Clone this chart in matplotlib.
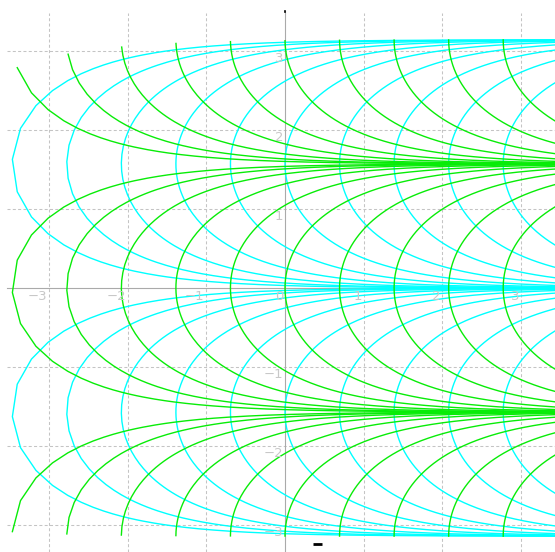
import numpy as np
import matplotlib
matplotlib.use("Agg")
from matplotlib import pyplot as plt

# grid levels of the z-plane lines (Re z = +-c and Im z = +-c), mapped by w = log(z)
levels = [1/32, 1/16, 1/8, 1/4, 1/2, 1, 2, 4, 8, 16]
signs = [1, -1]
# sampling of the other coordinate along each line
step = 0.0133
start = -0.0018
nhalf = 3000

ticks_x = [-3, -2, -1, 0, 1, 2, 3]
ticks_y = [3, 2, 1, -1, -2, -3]

cyan = '#00ffff'
green = '#08ec08'
gridc = '#c4c4c4'
axisc = '#aaaaaa'
labelc = '#c8c8c8'


def split_at_cut(w):
    # break the polyline where the argument jumps across the branch cut
    jumps = np.where(np.abs(np.diff(w.imag)) > np.pi)[0]
    return np.split(w, jumps + 1)


fig = plt.figure(figsize=(5.55, 5.52), dpi=100)
ax = fig.add_axes([0, 0, 1, 1])
xmin, xmax = -285 / 78.7, 270 / 78.7
ymin, ymax = -264 / 79.0, 288 / 79.0
ax.set_xlim(xmin, xmax)
ax.set_ylim(ymin, ymax)
ax.axis('off')

# dashed grid
gx0 = -278 / 78.7
gy1 = 275 / 79.0
for g in ticks_x:
    if g != 0:
        ax.plot([g, g], [ymin, gy1], color=gridc, lw=0.75, ls=(0, (2.9, 2.2)), zorder=1)
for g in ticks_y:
    ax.plot([gx0, xmax], [g, g], color=gridc, lw=0.75, ls=(0, (2.9, 2.2)), zorder=1)

# axes lines
ax.plot([gx0, xmax], [0, 0], color=axisc, lw=0.8, zorder=2)
ax.plot([0, 0], [ymin, 277 / 79.0], color=axisc, lw=0.8, zorder=2)

t = start + step * np.arange(-nhalf, nhalf + 1)

for c in levels:
    for s in signs:
        # horizontal lines Im z = s*c -> cyan
        w = np.log(t + 1j * s * c)
        for seg in split_at_cut(w):
            ax.plot(seg.real, seg.imag, color=cyan, lw=1.0, zorder=3)
for c in levels:
    for s in signs:
        # vertical lines Re z = s*c -> green
        w = np.log(s * c + 1j * t)
        for seg in split_at_cut(w):
            ax.plot(seg.real, seg.imag, color=green, lw=1.0, zorder=3)

# tick labels
for g in ticks_x:
    lab = str(g).replace('-', '\u2212')
    ax.text(g - 0.02, -0.02, lab, color=labelc, fontsize=9.5, ha='right', va='top', zorder=4)
for g in ticks_y:
    lab = str(g).replace('-', '\u2212')
    ax.text(-0.02, g - 0.015, lab, color=labelc, fontsize=9.5, ha='right', va='top', zorder=4)

# small black marks seen in the original
ax.plot([0, 0], [277 / 79.0, 276 / 79.0], color='black', lw=1.2, zorder=5)
ax.plot([0.36, 0.47], [-3.24, -3.24], color='black', lw=2.0, solid_capstyle='butt', zorder=5)

fig.savefig('out.png', dpi=100)
